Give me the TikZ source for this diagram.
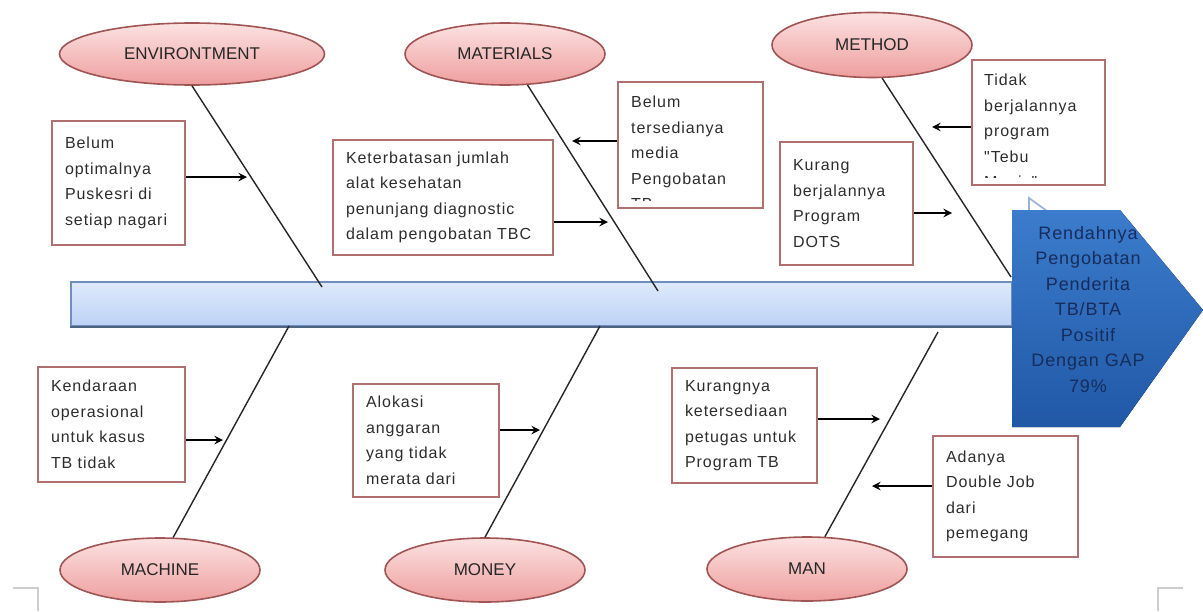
\documentclass[tikz,border=0pt]{standalone}
\usepackage{fontspec}
\setmainfont{Liberation Sans}
\newfontfamily\causefont[LetterSpace=6]{Liberation Sans}
\newfontfamily\effectfont[LetterSpace=5]{Liberation Sans}
\usetikzlibrary{shapes.geometric}

\definecolor{causeline}{RGB}{176,112,112}
\definecolor{causetextcol}{RGB}{45,45,45}
\definecolor{cattop}{RGB}{252,226,226}
\definecolor{catbottom}{RGB}{238,158,158}
\definecolor{catline}{RGB}{160,85,85}
\definecolor{spinetop}{RGB}{222,234,252}
\definecolor{spinebottom}{RGB}{188,210,245}
\definecolor{spineline}{RGB}{112,142,186}
\definecolor{headtop}{RGB}{60,124,204}
\definecolor{headbottom}{RGB}{32,88,166}
\definecolor{headtext}{RGB}{22,44,92}
\definecolor{cornermarkcol}{RGB}{205,205,205}
\definecolor{peakcol}{RGB}{150,178,215}

\tikzset{
  category/.style={ellipse, draw=catline, line width=0.8pt, top color=cattop,
    bottom color=catbottom, inner sep=0pt, text=black!85,
    font=\fontsize{8.5pt}{10pt}\selectfont},
  cause/.style={draw=causeline, line width=1.2pt, fill=white, inner xsep=6.5pt,
    inner ysep=0pt, align=left, text=causetextcol,
    font=\causefont\fontsize{8pt}{12.75pt}\selectfont},
  causetext/.style={inner sep=0pt, align=left, text=causetextcol,
    font=\causefont\fontsize{8pt}{12.75pt}\selectfont},
  spine/.style={draw=spineline, line width=0.9pt, top color=spinetop,
    bottom color=spinebottom, inner sep=0pt},
  effect/.style={inner sep=0pt, align=center, text=headtext,
    font=\effectfont\fontsize{9pt}{12.75pt}\selectfont},
  bone/.style={line width=0.7pt, black!85},
  causearrow/.style={->, line width=0.9pt},
  cornermark/.style={cornermarkcol, line width=1pt},
}

\begin{document}
\begin{tikzpicture}[x=0.5pt, y=-0.5pt, >=stealth]
  % Canvas
  \useasboundingbox (0,0) rectangle (1203,611);
  \fill[white] (0,0) rectangle (1203,611);

  % Corner marks
  \draw[cornermark] (13,588) -- (38,588) -- (38,611);
  \draw[cornermark] (1183,588) -- (1158,588) -- (1158,611);

  % Spine
  \node[spine, minimum width=470.5pt, minimum height=22pt] (spine) at (541.5,304) {};
  \draw[spineline!70!black, line width=1.2pt] (spine.south west) -- (spine.south east);

  % Categories
  \node[category, minimum width=132.5pt, minimum height=31pt] (env) at (192,54) {ENVIRONTMENT};
  \node[category, minimum width=100pt, minimum height=31pt] (mat) at (505,54) {MATERIALS};
  \node[category, minimum width=100pt, minimum height=32.5pt] (meth) at (872,45) {METHOD};
  \node[category, minimum width=100pt, minimum height=32pt] (mach) at (160,570) {MACHINE};
  \node[category, minimum width=100pt, minimum height=32pt] (mon) at (485,570) {MONEY};
  \node[category, minimum width=100pt, minimum height=32pt] (man) at (807,569) {MAN};

  % Bones
  \coordinate (envjoin) at (322,287);
  \coordinate (matjoin) at (658,291);
  \coordinate (methjoin) at (1011,277);
  \coordinate (machjoin) at (289,326);
  \coordinate (monjoin) at (600,326);
  \coordinate (manjoin) at (938,332);
  \draw[bone] (env.south) -- (envjoin);
  \draw[bone] (mat.-54) -- (matjoin);
  \draw[bone] (meth.-73) -- (methjoin);
  \draw[bone] (mach.68) -- (machjoin);
  \draw[bone] (mon.north) -- (monjoin);
  \draw[bone] (man.61) -- (manjoin);

  % Causes
  \node[cause, minimum width=66.5pt, minimum height=62pt, text width=53.5pt] (optimal) at (118.5,183)
    {Belum\\optimalnya\\Puskesri~di\\setiap~nagari};
  \node[cause, minimum width=110pt, minimum height=57.5pt, text width=97pt] (alat) at (443,197.5)
    {Keterbatasan~jumlah\\alat~kesehatan\\penunjang~diagnostic\\dalam~pengobatan~TBC};
  \node[cause, minimum width=72.5pt, minimum height=63pt] (tersedia) at (690.5,145) {};
  \node[cause, minimum width=66.5pt, minimum height=61.5pt, text width=53.5pt] (dots) at (846.5,203.5)
    {Kurang\\berjalannya\\Program\\DOTS};
  \node[cause, minimum width=66.5pt, minimum height=62.5pt] (tebu) at (1038.5,122.5) {};
  \node[cause, minimum width=73.5pt, minimum height=57.5pt, text width=60.5pt] (kendaraan) at (111.5,424.5)
    {Kendaraan\\operasional\\untuk~kasus\\TB~tidak};
  \node[cause, minimum width=73pt, minimum height=56.5pt, text width=60pt] (alokasi) at (426,440.5)
    {Alokasi\\anggaran\\yang~tidak\\merata~dari};
  \node[cause, minimum width=72.5pt, minimum height=57.5pt, text width=59.5pt] (petugas) at (744.5,425.5)
    {Kurangnya\\ketersediaan\\petugas~untuk\\Program~TB};
  \node[cause, minimum width=72.5pt, minimum height=60.5pt, text width=59.5pt] (doublejob) at (1005.5,496.5)
    {Adanya\\Double~Job\\dari\\pemegang};

  % Text running past the box bottom
  \begin{scope}
    \clip ([shift={(1,1)}]tersedia.north west) rectangle ([shift={(-1,-9)}]tersedia.south east);
    \node[causetext, anchor=north west] (tersediatext) at ([shift={(14,15)}]tersedia.north west)
      {Belum\\tersedianya\\media\\Pengobatan\\TB};
  \end{scope}
  \begin{scope}
    \clip ([shift={(1,1)}]tebu.north west) rectangle ([shift={(-1,-9)}]tebu.south east);
    \node[causetext, anchor=north west] (tebutext) at ([shift={(13,15)}]tebu.north west)
      {Tidak\\berjalannya\\program\\"Tebu\\Manis"};
  \end{scope}

  % Cause arrows
  \coordinate (optimaltip) at (247,177);
  \coordinate (alattip) at (608,222);
  \coordinate (tersediatip) at (572,141);
  \coordinate (dotstip) at (952,213);
  \coordinate (tebutip) at (932,127);
  \coordinate (kendaraantip) at (223,440);
  \coordinate (alokasitip) at (540,430);
  \coordinate (petugastip) at (880,419);
  \coordinate (doublejobtip) at (872,486);
  \draw[causearrow] (optimaltip -| optimal.east) -- (optimaltip);
  \draw[causearrow] (alattip -| alat.east) -- (alattip);
  \draw[causearrow] (tersediatip -| tersedia.west) -- (tersediatip);
  \draw[causearrow] (dotstip -| dots.east) -- (dotstip);
  \draw[causearrow] (tebutip -| tebu.west) -- (tebutip);
  \draw[causearrow] (kendaraantip -| kendaraan.east) -- (kendaraantip);
  \draw[causearrow] (alokasitip -| alokasi.east) -- (alokasitip);
  \draw[causearrow] (petugastip -| petugas.east) -- (petugastip);
  \draw[causearrow] (doublejobtip -| doublejob.west) -- (doublejobtip);

  % Head
  \draw[peakcol, line width=0.8pt] (1029,211) -- (1029,198) -- (1047,211);
  \fill[top color=headtop, bottom color=headbottom]
    (1012,210) -- (1120,210) -- (1203,310) -- (1120,427) -- (1012,427) -- cycle;
  \node[effect] (effect) at (1088,309.5)
    {Rendahnya\\Pengobatan\\Penderita\\TB/BTA\\Positif\\Dengan GAP\\79\%};
\end{tikzpicture}
\end{document}
